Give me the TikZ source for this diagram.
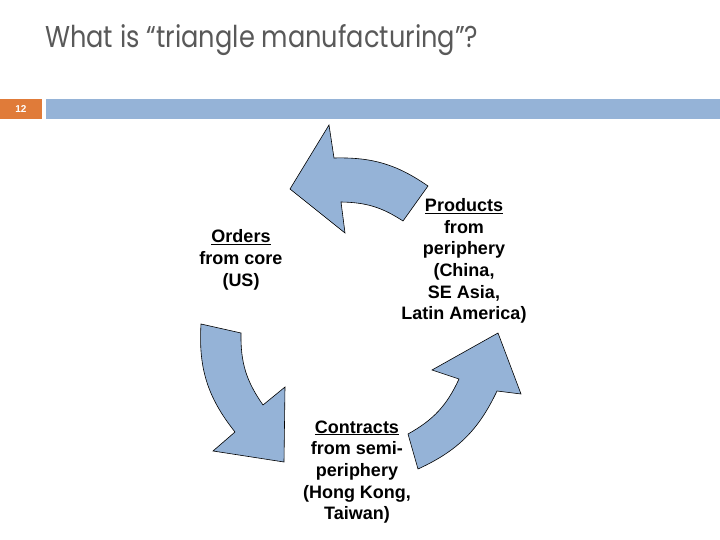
\documentclass[tikz,border=0pt]{standalone}
\usepackage{fontspec}
\setmainfont{Liberation Sans}
\newfontfamily\titlefont{Poppins}
\definecolor{barblue}{RGB}{149,179,215}
\definecolor{slideorange}{RGB}{224,123,57}
\definecolor{titlegray}{RGB}{89,89,89}
\tikzset{
  cyclearrow/.style={fill=barblue, draw=black, line width=0.6pt, line join=miter},
  lbl/.style={align=center, font=\bfseries\fontsize{18}{21.7}\selectfont, inner sep=0pt}
}
\begin{document}
\begin{tikzpicture}[x=1pt,y=-1pt]
\useasboundingbox (0,0) rectangle (720,540);
\fill[white] (0,0) rectangle (720,540);
% title
\node[anchor=base west, inner sep=0pt, text=titlegray] (title) at (45,48)
  {\resizebox{433pt}{23pt}{\titlefont What is “triangle manufacturing”?}};
% header bar
\fill[slideorange] (0,99) rectangle (42,119);
\fill[barblue] (46,99) rectangle (720,119);
\node[text=white, font=\bfseries\fontsize{10}{11}\selectfont, inner sep=0pt] (num) at (21,109.5) {12};
% top arrow
\draw[cyclearrow] (329,125) -- (334,158)
  to[bend left=18] (428,186)
  -- (403,221)
  to[bend right=16] (341,202)
  -- (345,233) -- (290,189) -- cycle;
% left arrow
\draw[cyclearrow] (201,324) -- (241,333)
  to[bend right=18] (263,405)
  -- (285,387) -- (284,462) -- (213,451) -- (235,432)
  to[bend left=21] (201,324)
  -- cycle;
% right arrow
\draw[cyclearrow] (408,434) -- (418,469)
  to[bend right=20] (497,391)
  -- (521,394) -- (498,333) -- (432,370) -- (459,379)
  to[bend left=18] (408,434)
  -- cycle;
% labels
\node[lbl] (orders) at (241,260) {\underline{Orders}\\from core\\(US)};
\node[lbl] (products) at (464,261) {\underline{Products}\\from\\periphery\\(China,\\SE Asia,\\Latin America)};
\node[lbl] (contracts) at (357,472) {\underline{Contracts}\\from semi-\\periphery\\(Hong Kong,\\Taiwan)};
\end{tikzpicture}
\end{document}
